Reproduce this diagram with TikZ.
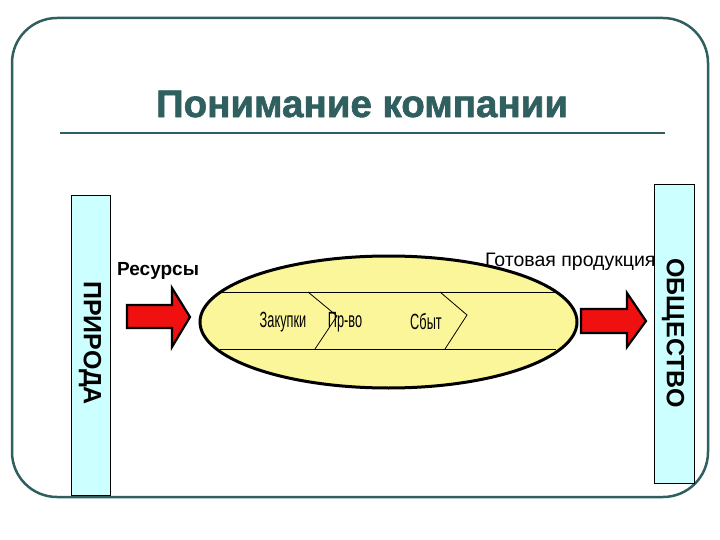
\documentclass[tikz,border=0pt]{standalone}
\usepackage{fontspec}
\setmainfont{Liberation Sans}
\newfontfamily\titlefont{Liberation Sans}[BoldFeatures={FakeBold=1.6}]
\usetikzlibrary{shapes.geometric}
\definecolor{frame}{HTML}{2F5F5F}
\definecolor{boxfill}{HTML}{CCFFFF}
\definecolor{ellfill}{HTML}{FBF69A}
\definecolor{arrred}{HTML}{F01010}
\tikzset{
  sidebox/.style={draw=black, line width=1pt, fill=boxfill},
  sidelabel/.style={font=\fontsize{25}{25}\selectfont\bfseries, rotate=-90},
  bigarrow/.style={draw=black, line width=2.2pt, fill=arrred, line join=miter},
  stage/.style={font=\fontsize{22}{22}\selectfont},
  thin/.style={draw=black, line width=0.8pt}
}
\begin{document}
\begin{tikzpicture}[x=1pt,y=-1pt]
\useasboundingbox (0,0) rectangle (720,540);
% frame
\draw[frame, line width=2.5pt, rounded corners=45pt] (12,18) rectangle (708,497);
% title
\node[text=frame, font=\titlefont\fontsize{38.5}{38.5}\selectfont\bfseries] (title) at (362,104) {Понимание компании};
\coordinate (hl) at (60,133);
\coordinate (hr) at (665,133);
\draw[frame, line width=2.5pt] (hl) -- (hr);
% side boxes
\node[sidebox, minimum width=39pt, minimum height=299pt, inner sep=0pt] (nat) at (90.5,345.5) {};
\node[sidelabel] at (90,343) {ПРИРОДА};
\node[sidebox, minimum width=40pt, minimum height=298pt, inner sep=0pt] (soc) at (674,334) {};
\node[sidelabel] at (673,333) {ОБЩЕСТВО};
% ellipse
\node[ellipse, draw=black, line width=3pt, fill=ellfill, minimum width=377pt, minimum height=132pt, inner sep=0pt] (comp) at (388.5,322) {};
% inner lines
\coordinate (l1a) at (220,292); \coordinate (l1b) at (556,292);
\coordinate (l2a) at (220,349); \coordinate (l2b) at (556,349);
\draw[thin] (l1a) -- (l1b);
\draw[thin] (l2a) -- (l2b);
% chevrons
\coordinate (c1t) at (308,292); \coordinate (c1m) at (337,316); \coordinate (c1b) at (315,349);
\coordinate (c2t) at (440,292); \coordinate (c2m) at (467,315); \coordinate (c2b) at (445,349);
\draw[thin] (c1t) -- (c1m) -- (c1b);
\draw[thin] (c2t) -- (c2m) -- (c2b);
% stage labels
\node[stage] (zak) at (283,322) {\scalebox{0.58}[1]{Закупки}};
\node[stage] (prv) at (345,322) {\scalebox{0.58}[1]{Пр-во}};
\node[stage] (sbt) at (426,322) {\scalebox{0.58}[1]{Сбыт}};
% arrows
\draw[bigarrow] (127,305) -- (172,305) -- (172,288) -- (190,317) -- (172,347) -- (172,328) -- (127,328) -- cycle;
\draw[bigarrow] (581,309) -- (627,309) -- (627,293) -- (646,321) -- (627,347) -- (627,333) -- (581,333) -- cycle;
% labels
\node[font=\fontsize{19}{19}\selectfont\bfseries, anchor=west, inner sep=0pt] (res) at (117,271) {Ресурсы};
\node[font=\fontsize{19.5}{19.5}\selectfont, anchor=west, inner sep=0pt] (prod) at (485,262) {Готовая продукция};
\end{tikzpicture}
\end{document}
